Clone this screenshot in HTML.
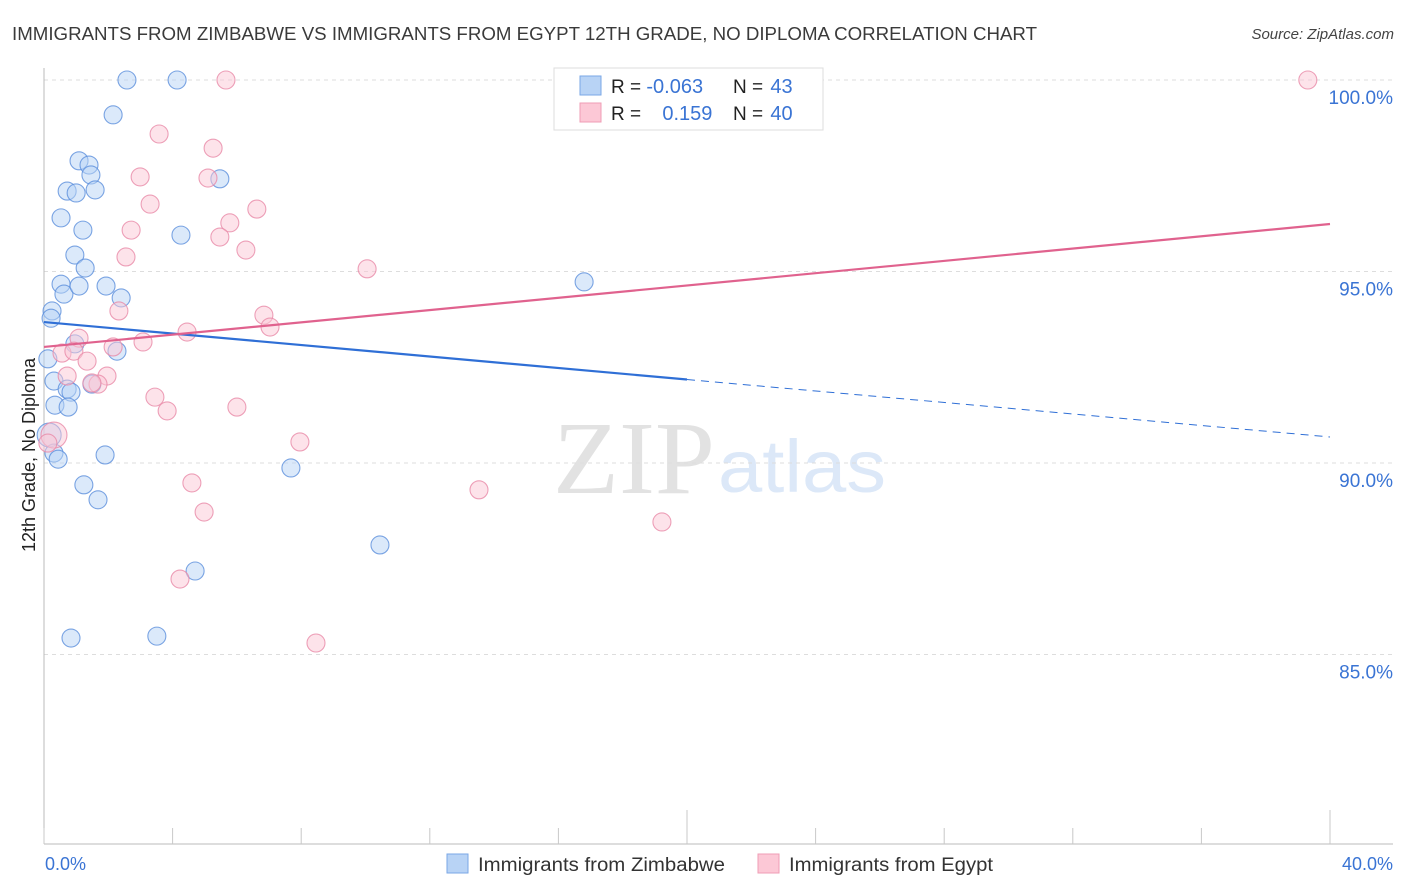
<!DOCTYPE html>
<html><head><meta charset="utf-8"><style>
body{margin:0;background:#fff;font-family:"Liberation Sans",sans-serif;}
#wrap{position:relative;width:1406px;height:892px;overflow:hidden;}
</style></head><body>
<div id="wrap">
<svg id="chart" width="1406" height="892" xmlns="http://www.w3.org/2000/svg">
<text x="12" y="40" font-size="18" fill="#3a3a3a" textLength="1025" lengthAdjust="spacingAndGlyphs">IMMIGRANTS FROM ZIMBABWE VS IMMIGRANTS FROM EGYPT 12TH GRADE, NO DIPLOMA CORRELATION CHART</text>
<text x="1394" y="39" font-size="15" fill="#444" font-style="italic" text-anchor="end">Source: ZipAtlas.com</text>
<text x="553" y="493" font-size="104" fill="#e2e2e2" font-family="Liberation Serif, serif" textLength="162" lengthAdjust="spacingAndGlyphs">ZIP</text>
<text x="718" y="492" font-size="74" fill="#dce8f8" textLength="168" lengthAdjust="spacingAndGlyphs">atlas</text>
<text transform="translate(35,455) rotate(-90)" font-size="18" fill="#222" text-anchor="middle">12th Grade, No Diploma</text>
<g id="grid"></g><g id="marks"></g>
<g>
<rect x="554" y="68" width="269" height="62" fill="#fff" stroke="#ddd"/>
<rect x="580" y="76" width="21" height="19" fill="#b8d3f5" stroke="#7aa7e6"/>
<rect x="580" y="103" width="21" height="19" fill="#fcc8d6" stroke="#ef9db5"/>
<text x="611" y="93" font-size="19" fill="#222">R = <tspan fill="#3a74d4" font-size="20">-0.063</tspan></text>
<text x="733" y="93" font-size="19" fill="#222">N = <tspan fill="#3a74d4" dx="2" font-size="20">43</tspan></text>
<text x="611" y="120" font-size="19" fill="#222">R = <tspan fill="#3a74d4" dx="16" font-size="20">0.159</tspan></text>
<text x="733" y="120" font-size="19" fill="#222">N = <tspan fill="#3a74d4" dx="2" font-size="20">40</tspan></text>
</g>
<text x="45" y="870" font-size="18" fill="#3a74d4">0.0%</text>
<text x="1393" y="870" font-size="18" fill="#3a74d4" text-anchor="end">40.0%</text>
<rect x="447" y="854" width="21" height="19" fill="#b8d3f5" stroke="#7aa7e6"/>
<text x="478" y="871" font-size="19" fill="#333" textLength="247" lengthAdjust="spacingAndGlyphs">Immigrants from Zimbabwe</text>
<rect x="758" y="854" width="21" height="19" fill="#fcc8d6" stroke="#ef9db5"/>
<text x="789" y="871" font-size="19" fill="#333" textLength="204" lengthAdjust="spacingAndGlyphs">Immigrants from Egypt</text>
</svg></div>
<script>
const yTicks=[100,95,90,85];
const yTickLabels=["100.0%","95.0%","90.0%","85.0%"];
const xTicks=[0,4,8,12,16,20,24,28,32,36,40];
const zimX=[2.58,4.14,2.15,1.09,1.40,1.46,0.72,1.0,1.59,5.47,0.53,1.21,4.26,0.96,1.28,0.53,0.62,1.09,1.93,2.40,0.25,0.22,16.8,0.96,2.27,0.12,0.31,0.72,0.84,1.49,0.34,0.75,0.16,0.31,0.44,1.90,7.68,1.24,1.68,10.45,4.70,0.84,3.51];
const zimY=[100,100,99.09,97.89,97.78,97.52,97.10,97.05,97.13,97.42,96.40,96.08,95.95,95.43,95.09,94.67,94.41,94.62,94.62,94.31,93.97,93.78,94.73,93.11,92.92,92.72,92.14,91.93,91.85,92.06,91.51,91.46,90.73,90.26,90.10,90.21,89.87,89.43,89.04,87.86,87.18,85.43,85.48];
const egyX=[5.66,39.31,3.58,5.26,2.99,5.10,3.30,6.62,5.78,2.71,5.47,6.28,2.55,10.05,2.33,6.84,7.03,4.45,1.09,3.08,2.15,0.56,0.93,1.34,0.72,1.96,1.68,1.49,3.45,3.83,6.00,0.31,7.96,13.53,4.60,4.98,19.22,4.23,8.46,0.12];
const egyY=[100,100,98.59,98.22,97.47,97.44,96.76,96.63,96.27,96.08,95.90,95.56,95.38,95.07,93.97,93.86,93.55,93.42,93.26,93.16,93.03,92.87,92.92,92.66,92.27,92.27,92.06,92.09,91.72,91.36,91.46,90.73,90.55,89.30,89.48,88.72,88.46,86.97,85.30,90.52];
const zimSize=[9,9,9,9,9,9,9,9,9,9,9,9,9,9,9,9,9,9,9,9,9,9,9,9,9,9,9,9,9,9,9,9,12,9,9,9,9,9,9,9,9,9,9];
const egySize=[9,9,9,9,9,9,9,9,9,9,9,9,9,9,9,9,9,9,9,9,9,9,9,9,9,9,9,9,9,9,9,13,9,9,9,9,9,9,9,9];
const zimTrend=[93.68,90.68];
const egyTrend=[93.03,96.24];
const X=v=>44+v/40*1286;
const Y=v=>80+(100-v)*38.3;
const NS="http://www.w3.org/2000/svg";
const grid=document.getElementById('grid'),marks=document.getElementById('marks');
function mk(tag,attrs,parent){const e=document.createElementNS(NS,tag);for(const k in attrs)e.setAttribute(k,attrs[k]);parent.appendChild(e);return e;}
yTicks.forEach((t,i)=>{
 const l=mk('line',{x1:44,x2:1393,y1:Y(t),y2:Y(t),stroke:'#ddd','stroke-dasharray':'4,4'},grid);
 
 
 const tx=mk('text',{x:1393,y:Y(t)+24,'font-size':19,fill:'#3a74d4','text-anchor':'end'},grid);
 tx.textContent=yTickLabels[i];
 
 
});
const ax=mk('line',{x1:44,x2:1393,y1:844,y2:844,stroke:'#bbb'},grid);


const yax=mk('line',{x1:44,x2:44,y1:68,y2:844,stroke:'#bbb'},grid);


xTicks.forEach(t=>{
 const l=mk('line',{x1:X(t),x2:X(t),y1:(t==20||t==40)?810:828,y2:844,stroke:'#c8c8c8'},grid);
 
 
});
function pts(xs,ys,sz,fill,stroke,name){xs.forEach((x,i)=>{
 const c=mk('circle',{cx:X(x),cy:Y(ys[i]),r:sz[i],fill:fill,'fill-opacity':0.5,stroke:stroke,'stroke-opacity':0.8,'stroke-width':1.1},marks);
 
 
});}
pts(zimX,zimY,zimSize,'#b8d3f5','#5b8fdc','point-zimbabwe');
pts(egyX,egyY,egySize,'#fcc8d6','#e88aa8','point-egypt');
const zy=x=>zimTrend[0]+(zimTrend[1]-zimTrend[0])*x/40;
const t1=mk('line',{x1:X(0),y1:Y(zy(0)),x2:X(20),y2:Y(zy(20)),stroke:'#2f6fd6','stroke-width':2.2},marks);


const t2=mk('line',{x1:X(20),y1:Y(zy(20)),x2:X(40),y2:Y(zy(40)),stroke:'#2f6fd6','stroke-width':1,'stroke-dasharray':'8,6'},marks);


const t3=mk('line',{x1:X(0),y1:Y(egyTrend[0]),x2:X(40),y2:Y(egyTrend[1]),stroke:'#e0628e','stroke-width':2.2},marks);


</script>
</body></html>
